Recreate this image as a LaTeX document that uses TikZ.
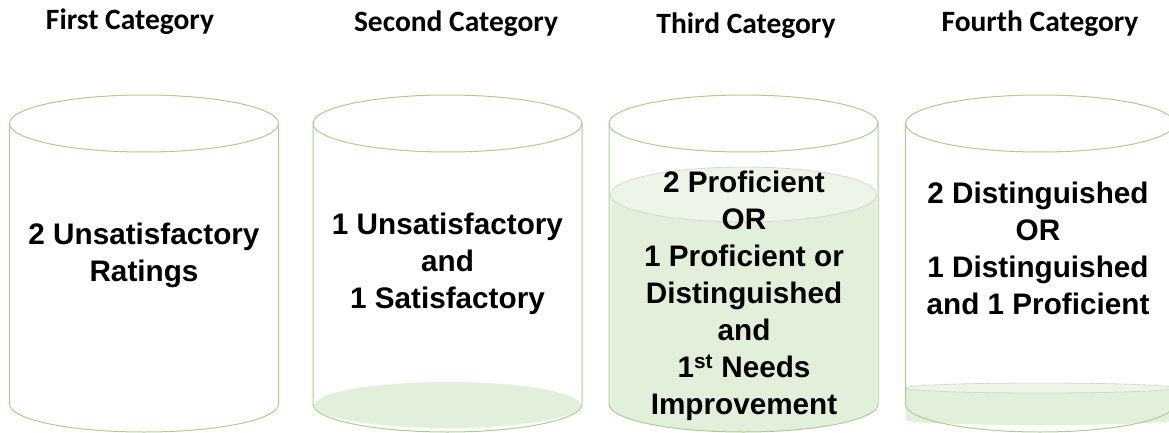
\documentclass[tikz,border=0pt]{standalone}
\usepackage{fontspec}
\setmainfont{Liberation Sans}
\newfontfamily\headfont{Carlito}
\definecolor{cylline}{HTML}{A8D08D}
\definecolor{liquid}{HTML}{E2EFDA}
\definecolor{liquidtop}{HTML}{EDF5E8}
\definecolor{liquidrim}{HTML}{D6D9D3}
\tikzset{
  cylout/.style={draw=cylline, line width=1pt},
  heading/.style={font=\headfont\bfseries\fontsize{29.5}{35}\selectfont, inner sep=0pt},
  bodytext/.style={font=\bfseries\fontsize{29.7}{37}\selectfont, align=center, inner sep=0pt},
}
\begin{document}
\begin{tikzpicture}[x=1pt,y=-1pt]
\useasboundingbox (0,0) rectangle (1169,433);
% ---- liquids ----
% cylinder 2: bottom puddle
\fill[liquid] (447.5,405) ellipse [x radius=133, y radius=23];
% cylinder 3: tall liquid
\fill[liquid] (610.5,194.5) -- (610.5,404) arc[start angle=180, end angle=0, x radius=133, y radius=28] -- (876.5,194.5) -- cycle;
\filldraw[fill=liquidtop, draw=liquidrim, line width=0.8pt] (743.5,194.5) ellipse [x radius=133, y radius=27.5];
% cylinder 4: thin slab
\fill[liquid] (905.5,388) -- (905.5,420) arc[start angle=180, end angle=0, x radius=134.5, y radius=5] -- (1174.5,388) -- cycle;
\filldraw[fill=liquidtop, draw=liquidrim, line width=0.8pt] (1040,388) ellipse [x radius=134.5, y radius=5];
% ---- cylinder outlines ----
\foreach \cx/\nm in {144/c1, 447.5/c2, 743.5/c3, 1040/c4}{
  \draw[cylout] (\cx,123.5) ellipse [x radius=134.5, y radius=28.5];
  \draw[cylout] (\cx-134.5,123.5) -- (\cx-134.5,404) arc[start angle=180, end angle=0, x radius=134.5, y radius=28] -- (\cx+134.5,123.5);
}
% ---- headings ----
\node[heading] (h1) at (130,22) {First Category};
\node[heading] (h2) at (456,24) {Second Category};
\node[heading] (h3) at (746,26) {Third Category};
\node[heading] (h4) at (1040,24) {Fourth Category};
% ---- texts ----
\node[bodytext] (t1) at (144,255) {2 Unsatisfactory\\Ratings};
\node[bodytext] (t2) at (447.5,264) {1 Unsatisfactory\\and\\1 Satisfactory};
\node[bodytext] (t3) at (744,296) {2 Proficient\\OR\\1 Proficient or\\Distinguished\\and\\1\textsuperscript{st} Needs\\Improvement};
\node[bodytext] (t4) at (1038,248) {2 Distinguished\\OR\\1 Distinguished\\and 1 Proficient};
\end{tikzpicture}
\end{document}
